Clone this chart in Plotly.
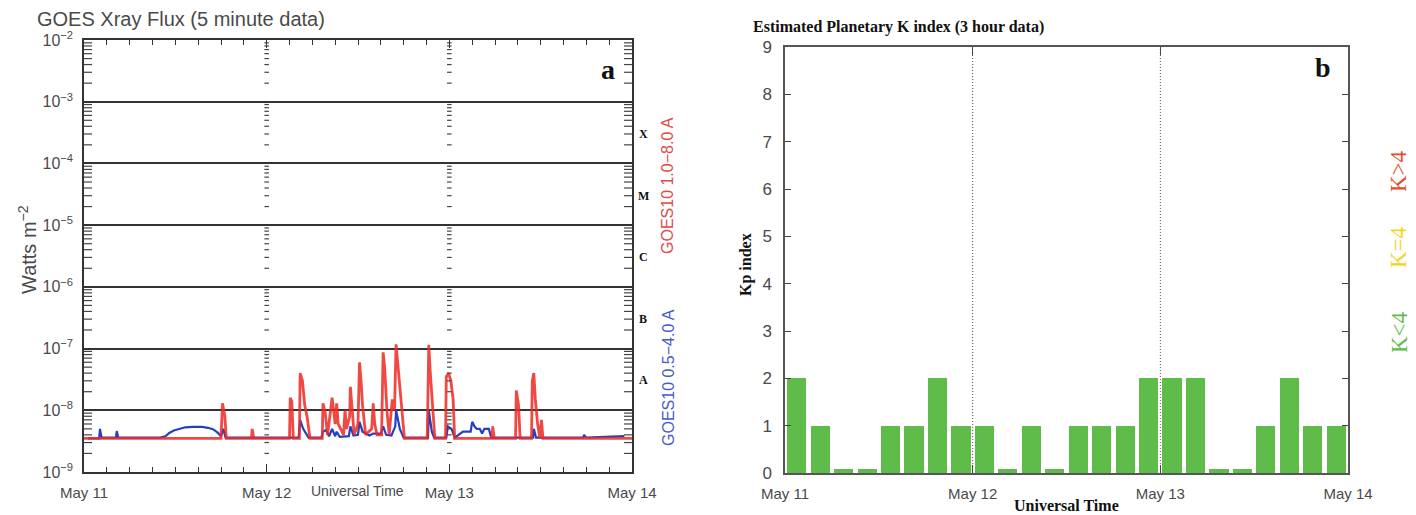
import plotly.graph_objects as go

W, H = 1416, 515

# ---------------- Data ----------------
# GOES10 X-ray flux, time in hours since May 11 00:00 UT
red_hours = [0.0, 18.0, 18.2, 18.5, 18.7, 22.0, 22.1, 22.3, 27.0, 27.1, 27.3, 27.5,
             28.3, 28.4, 28.7, 29.0, 29.3, 29.7, 31.3, 31.4, 31.7, 32.0, 32.4, 32.6,
             32.8, 33.0, 33.2, 33.4, 34.1, 34.3, 34.5, 34.9, 35.0, 35.2, 35.5, 36.0,
             36.2, 36.4, 36.6, 37.0, 37.8, 38.0, 38.2, 38.5, 39.1, 39.3, 39.5, 39.8,
             40.1, 40.5, 40.8, 41.0, 41.2, 41.5, 41.8, 42.1, 45.1, 45.3, 45.5, 45.8,
             46.1, 47.5, 47.6, 47.9, 48.2, 48.5, 48.7, 53.6, 53.7, 53.9, 56.7, 56.8,
             57.1, 57.3, 58.8, 58.9, 59.1, 59.3, 59.6, 59.9, 60.1, 60.3, 72.0]
red_flux = [3.5e-9, 3.5e-9, 1.3e-8, 8e-9, 3.5e-9, 3.5e-9, 5.0e-9, 3.5e-9, 3.5e-9, 1.6e-8, 1.4e-8, 3.5e-9,
            3.5e-9, 4.0e-8, 3.0e-8, 1.2e-8, 8e-9, 3.5e-9, 3.5e-9, 1.3e-8, 9e-9, 4e-9, 1.0e-8, 1.6e-8,
            1.0e-8, 6e-9, 1.3e-8, 6e-9, 4e-9, 1.0e-8, 5e-9, 8e-9, 2.4e-8, 1.0e-8, 4e-9, 6e-9,
            6.0e-8, 3e-8, 1.2e-8, 4e-9, 5e-9, 1.3e-8, 6e-9, 4e-9, 4e-9, 8.7e-8, 5e-8, 1.0e-8,
            4e-9, 1.5e-8, 1.0e-8, 1.17e-7, 6e-8, 2e-8, 8e-9, 3.5e-9, 3.5e-9, 1.15e-7, 4e-8, 1.0e-8,
            3.5e-9, 3.5e-9, 3.5e-8, 4.0e-8, 3.0e-8, 1.5e-8, 3.5e-9, 3.5e-9, 5.5e-9, 3.5e-9, 3.5e-9, 2.1e-8,
            1.2e-8, 3.5e-9, 3.5e-9, 3.0e-8, 4.0e-8, 1.5e-8, 6e-9, 3.5e-9, 7e-9, 3.5e-9, 3.5e-9]

blue_hours = [0.5, 2.0, 2.1, 2.3, 4.2, 4.3, 4.5, 10.0, 10.7, 11.2, 11.8, 12.5, 13.3, 14.3,
              15.5, 16.3, 17.0, 17.6, 18.0, 18.3, 18.6, 28.2, 28.4, 28.8, 29.5, 31.2, 31.4,
              31.8, 32.2, 32.6, 33.0, 33.2, 33.6, 34.8, 35.0, 35.4, 36.0, 36.2, 36.6, 37.5,
              38.0, 39.0, 39.3, 39.7, 40.4, 40.6, 40.9, 41.0, 41.5, 42.0, 45.2, 45.3, 45.7,
              46.0, 47.6, 47.8, 48.3, 48.7, 49.8, 50.8, 51.0, 51.3, 51.6, 52.0, 52.3, 52.6,
              53.2, 53.5, 59.0, 59.1, 59.4, 65.6, 65.7, 66.0, 71.0]
blue_flux = [3.5e-9, 3.5e-9, 5.0e-9, 3.6e-9, 3.6e-9, 4.6e-9, 3.6e-9, 3.6e-9, 3.8e-9, 4.3e-9, 4.7e-9, 5.0e-9, 5.3e-9, 5.4e-9,
             5.4e-9, 5.2e-9, 4.9e-9, 4.3e-9, 3.8e-9, 5.0e-9, 3.6e-9, 3.6e-9, 6.9e-9, 5e-9, 3.6e-9, 3.6e-9, 4.5e-9,
             4.8e-9, 3.8e-9, 5e-9, 3.8e-9, 4.5e-9, 3.7e-9, 3.8e-9, 5.5e-9, 3.9e-9, 4.0e-9, 6.5e-9, 4.5e-9, 3.9e-9,
             4.2e-9, 4.2e-9, 5.5e-9, 4.0e-9, 3.9e-9, 4.5e-9, 5.5e-9, 1.0e-8, 5e-9, 3.6e-9, 3.6e-9, 1.0e-8, 4.5e-9,
             3.6e-9, 3.6e-9, 5.5e-9, 5e-9, 3.6e-9, 4.5e-9, 4.5e-9, 6.5e-9, 5.5e-9, 5e-9, 5e-9, 4.2e-9, 5e-9,
             5e-9, 3.6e-9, 3.6e-9, 5e-9, 3.6e-9, 3.6e-9, 4e-9, 3.6e-9, 3.8e-9]

# Estimated planetary K index, 3-hour intervals from May 11 00 UT
kp_values = [2, 1, 0, 0, 1, 1, 2, 1,
             1, 0, 1, 0, 1, 1, 1, 2,
             2, 2, 0, 0, 1, 2, 1, 1]

day_ticks = [0, 24, 48, 72]
day_labels = ["May 11", "May 12", "May 13", "May 14"]
flux_decades = [-9, -8, -7, -6, -5, -4, -3, -2]
flare_classes = ["A", "B", "C", "M", "X"]
kp_ticks = list(range(10))

# ---------------- Styles ----------------
SANS = "Liberation Sans"
SERIF = "Liberation Serif"
GRAY = "#4a4a4a"
RED = "#ee2a24"
BLUE = "#2440c0"
GREEN = "#5fbb4a"
YELLOW = "#f3d51c"
KRED = "#ea4a2c"

def px(x):
    return x / W

def py(y):
    return 1 - y / H

L_X0, L_X1, L_Y0, L_Y1 = 84, 632, 40, 472
R_X0, R_X1, R_Y0, R_Y1 = 785, 1348, 47, 473

fig = go.Figure()

fig.add_trace(go.Scatter(x=blue_hours, y=blue_flux, mode="lines",
                         line=dict(color=BLUE, width=2.2), xaxis="x", yaxis="y",
                         showlegend=False, name="GOES10 0.5-4.0 A"))
fig.add_trace(go.Scatter(x=red_hours, y=red_flux, mode="lines",
                         line=dict(color=RED, width=2.8), opacity=0.85,
                         xaxis="x", yaxis="y", showlegend=False, name="GOES10 1.0-8.0 A"))

# Kp bars
kp_centers = [3 * i + 1.5 for i in range(len(kp_values))]
kp_heights = [v if v > 0 else 0.08 for v in kp_values]
kp_colors = [GREEN if v < 4 else (YELLOW if v == 4 else KRED) for v in kp_values]
fig.add_trace(go.Bar(x=kp_centers, y=kp_heights, width=2.45,
                     marker=dict(color=kp_colors, line=dict(width=0)),
                     xaxis="x2", yaxis="y2", showlegend=False))

shapes = []
# minor log ticks on both edges of panel a and tick columns at day boundaries
minor_vals = [m * 10.0 ** d for d in flux_decades[:-1] for m in range(2, 10)]
tlen = 8 / (L_X1 - L_X0)
for v in minor_vals:
    shapes.append(dict(type="line", xref="x domain", yref="y", x0=0, x1=tlen, y0=v, y1=v,
                       line=dict(color="#444", width=1.2)))
    shapes.append(dict(type="line", xref="x domain", yref="y", x0=1 - tlen, x1=1, y0=v, y1=v,
                       line=dict(color="#444", width=1.2)))
    for xb in day_ticks[1:3]:
        shapes.append(dict(type="line", xref="x", yref="y", x0=xb - 0.3, x1=xb + 0.3, y0=v, y1=v,
                           line=dict(color="#444", width=1.2)))
# dotted day separators in panel b
for xb in day_ticks[1:3]:
    shapes.append(dict(type="line", xref="x2", yref="y2 domain", x0=xb, x1=xb, y0=0, y1=1,
                       line=dict(color="#555", width=1, dash="1px,2px"), layer="below"))

fig.update_layout(
    width=W, height=H, margin=dict(l=0, r=0, t=0, b=0),
    paper_bgcolor="white", plot_bgcolor="white", bargap=0, shapes=shapes,
    xaxis=dict(domain=[px(L_X0), px(L_X1)], range=[0, 72], anchor="y", automargin=False,
               tickmode="array", tickvals=day_ticks, ticktext=day_labels,
               ticks="inside", ticklen=8, tickwidth=1.2, tickcolor="#333",
               showline=True, linecolor="#333", linewidth=1.5, mirror="ticks",
               showgrid=False, zeroline=False, ticklabelstandoff=6,
               minor=dict(dtick=3, ticks="inside", ticklen=5, tickcolor="#333", tickwidth=1),
               tickfont=dict(family=SANS, size=15, color=GRAY)),
    yaxis=dict(domain=[py(L_Y1), py(L_Y0)], type="log", range=[-9, -2], anchor="x",
               automargin=False,
               tickmode="array", tickvals=[10.0 ** d for d in flux_decades],
               ticktext=["10<sup>−%d</sup>" % (-d) for d in flux_decades],
               ticks="", showline=True, linecolor="#333", linewidth=1.5, mirror=True,
               showgrid=True, gridcolor="#333", gridwidth=1.5, zeroline=False,
               ticklabelstandoff=6,
               tickfont=dict(family=SANS, size=16, color=GRAY)),
    xaxis2=dict(domain=[px(R_X0), px(R_X1)], range=[0, 72], anchor="y2", automargin=False,
                tickmode="array", tickvals=day_ticks, ticktext=day_labels,
                ticks="inside", ticklen=8, tickcolor="#444",
                showline=True, linecolor="#555", linewidth=1.5, mirror="ticks",
                showgrid=False, zeroline=False, ticklabelstandoff=6,
                tickfont=dict(family=SANS, size=15, color=GRAY)),
    yaxis2=dict(domain=[py(R_Y1), py(R_Y0)], range=[0, 9], anchor="x2", automargin=False,
                tickmode="array", tickvals=kp_ticks,
                ticks="inside", ticklen=6, tickcolor="#444",
                showline=True, linecolor="#555", linewidth=1.5, mirror="ticks",
                showgrid=False, zeroline=False, ticklabelstandoff=8,
                tickfont=dict(family=SANS, size=17, color=GRAY)),
)

ann = []
def add(text, x, y, size, color, family, bold=False, angle=0, xanchor="center", yanchor="middle"):
    ann.append(dict(text=("<b>%s</b>" % text) if bold else text, x=px(x), y=py(y),
                    xref="paper", yref="paper", showarrow=False, textangle=angle,
                    xanchor=xanchor, yanchor=yanchor,
                    font=dict(family=family, size=size, color=color)))

add("GOES Xray Flux (5 minute data)", 35, 19, 20, GRAY, SANS, xanchor="left")
add("Watts m<sup>−2</sup>", 27, 250, 20, GRAY, SANS, angle=-90)
add("Universal Time", 357, 491, 14, GRAY, SANS)
add("a", 608, 70, 28, "#111", SERIF, bold=True)
class_y = [380, 319, 257, 196, 134]
for c, yy in zip(flare_classes, class_y):
    add(c, 643, yy, 12, "#111", SERIF, bold=True)
add("GOES10 1.0−8.0 A", 668, 186, 16, "#e24a4a", SANS, angle=-90)
add("GOES10 0.5−4.0 A", 668, 378, 16, "#4a5cc4", SANS, angle=-90)

add("Estimated Planetary K index (3 hour data)", 751, 27, 16, "#111", SERIF, bold=True, xanchor="left")
add("Kp index", 746, 265, 16, "#111", SERIF, bold=True, angle=-90)
add("Universal Time", 1066, 505, 16, "#111", SERIF, bold=True)
add("b", 1323, 68, 28, "#111", SERIF, bold=True)
add("K&gt;4", 1399, 171, 23, KRED, SERIF, angle=-90)
add("K=4", 1399, 247, 23, YELLOW, SERIF, angle=-90)
add("K&lt;4", 1399, 332, 23, GREEN, SERIF, angle=-90)

fig.update_layout(annotations=ann)
fig.write_html("out.html")
